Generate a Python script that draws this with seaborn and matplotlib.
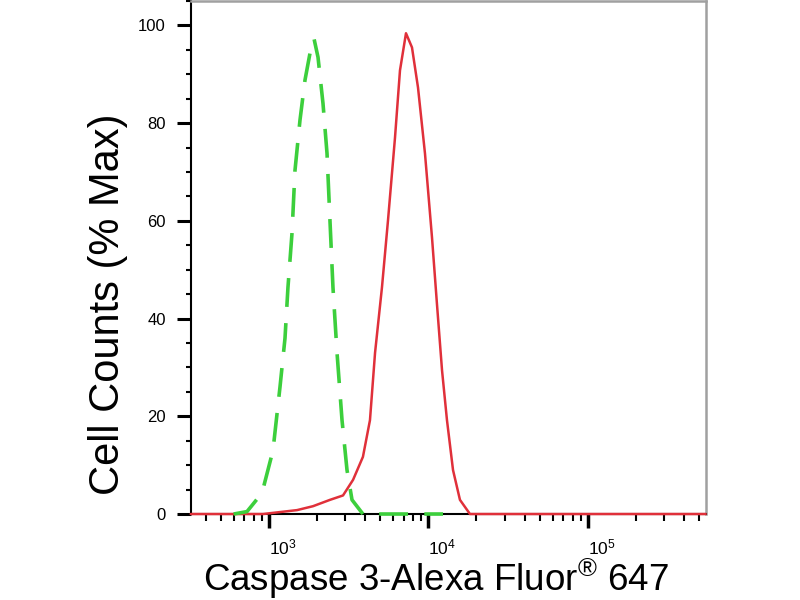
import numpy as np
import pandas as pd
import matplotlib
matplotlib.use('Agg')
import matplotlib.pyplot as plt
import matplotlib.ticker as mticker
import seaborn as sns

# Isotype control (green dashed) - fluorescence intensity and % max
control_x = [600, 728, 904, 1059, 1172, 1260, 1315, 1394, 1455, 1564, 1681, 1807,
             1915, 2029, 2181, 2311, 2412, 2518, 2670, 2870, 3084, 3315, 3881, 12330]
control_y = [0, 0.5, 4.3, 13, 26, 36, 46.4, 57.5, 70.3, 80.6, 88.8, 94.3,
             97.3, 93.5, 84, 73.8, 60, 46.4, 33, 19.2, 9, 2.9, 0, 0]

# Caspase 3 stained sample (red solid)
sample_x = [323, 917, 1172, 1499, 1887, 2412, 2911, 3366, 3881, 4296, 4623, 5109,
            5570, 6165, 6626, 7226, 7880, 8595, 9506, 10520, 11300, 12160, 13060,
            14250, 15750, 18200, 547000]
sample_y = [0, 0, 0.4, 0.8, 1.6, 2.9, 3.8, 7, 11.7, 19.2, 33, 46.4,
            60, 77, 90.8, 98.4, 95.5, 87.3, 73.8, 56.6, 43, 29.4, 19.2,
            9, 2.9, 0, 0]

x_major = [1e3, 1e4, 1e5]
x_major_labels = [r'$10^{3}$', r'$10^{4}$', r'$10^{5}$']
y_major = [0, 20, 40, 60, 80, 100]

sns.set_style('ticks')
plt.rcParams['font.family'] = ['Liberation Sans', 'DejaVu Sans']
plt.rcParams['mathtext.fontset'] = 'custom'
plt.rcParams['mathtext.rm'] = 'Liberation Sans'
plt.rcParams['mathtext.it'] = 'Liberation Sans'
for key in ['text.color', 'axes.labelcolor', 'xtick.color', 'ytick.color',
            'xtick.labelcolor', 'ytick.labelcolor']:
    plt.rcParams[key] = 'black'

control = pd.DataFrame({'x': control_x, 'y': control_y})
sample = pd.DataFrame({'x': sample_x, 'y': sample_y})

fig = plt.figure(figsize=(8, 6), dpi=100)
ax = fig.add_axes([0.2384, 0.1433, 0.6437, 0.855])

# Plot both histograms
sns.lineplot(data=sample, x='x', y='y', ax=ax, color='#e0303a', linewidth=1.8,
             estimator=None, zorder=3)
sns.lineplot(data=control, x='x', y='y', ax=ax, color='#3ccf3c', linewidth=2.6,
             estimator=None, zorder=4, dashes=False)
ax.lines[1].set_dashes([8, 4.5])
for ln in ax.lines:
    ln.set_clip_on(False)

ax.set_xscale('log')
ax.set_xlim(323, 547000)
ax.set_ylim(0, 105)

# Ticks
ax.set_xticks(x_major)
ax.set_xticklabels(x_major_labels, ha='left')
ax.xaxis.set_minor_locator(mticker.LogLocator(base=10, subs=np.arange(2, 10)))
ax.xaxis.set_minor_formatter(mticker.NullFormatter())
ax.set_yticks(y_major)
ax.yaxis.set_minor_locator(mticker.MultipleLocator(5))
ax.tick_params(axis='x', which='major', length=10, width=2.5, labelsize=12.5, pad=7)
ax.tick_params(axis='x', which='minor', length=5, width=1.5)
ax.tick_params(axis='y', which='major', length=10, width=2.2, labelsize=12, pad=8)
ax.tick_params(axis='y', which='minor', length=3.6, width=1.5)

# Spines
for side in ['left', 'bottom']:
    ax.spines[side].set_color('black')
    ax.spines[side].set_linewidth(1.5)
for side in ['top', 'right']:
    ax.spines[side].set_color('#a0a0a0')
    ax.spines[side].set_linewidth(1.8)

# Axis labels
ax.set_xlabel('Caspase 3-Alexa Fluor$^{\\mathrm{®}}$ 647', fontsize=26.5)
ax.xaxis.label.set_va('baseline')
ax.xaxis.set_label_coords(0.477, -0.150)
ax.set_ylabel('Cell Counts (% Max)', fontsize=30)
ax.yaxis.label.set_va('center')
ax.yaxis.set_label_coords(-0.1606, 0.409)

fig.savefig('out.png', dpi=100)
